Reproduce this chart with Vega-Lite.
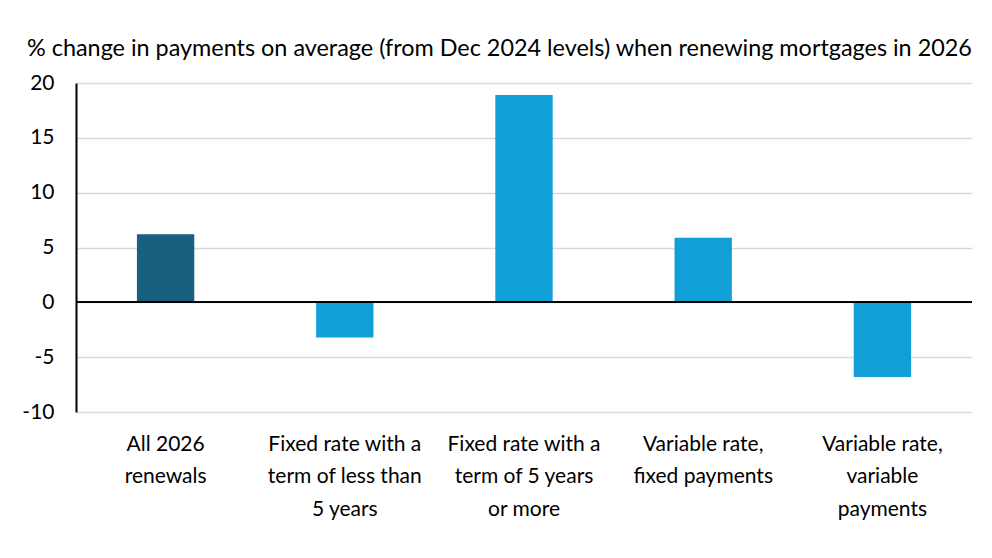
{
  "$schema": "https://vega.github.io/schema/vega-lite/v6.json",
  "width": 896,
  "height": 329,
  "padding": {"left": 76, "top": 83, "right": 20, "bottom": 146},
  "autosize": {"type": "none"},
  "background": "white",
  "title": {
    "text": "% change in payments on average (from Dec 2024 levels) when renewing mortgages in 2026",
    "anchor": "start",
    "frame": "group",
    "dx": -49,
    "offset": 11,
    "font": "Lato",
    "fontSize": 23.4,
    "fontWeight": "normal",
    "color": "#000000"
  },
  "data": {
    "values": [
      {"category": "All 2026 renewals", "group": "all", "change": 6.2},
      {"category": "Fixed rate with a term of less than 5 years", "group": "type", "change": -3.2},
      {"category": "Fixed rate with a term of 5 years or more", "group": "type", "change": 18.9},
      {"category": "Variable rate, fixed payments", "group": "type", "change": 5.9},
      {"category": "Variable rate, variable payments", "group": "type", "change": -6.8}
    ]
  },
  "layer": [
    {
      "mark": {"type": "bar"},
      "encoding": {
        "x": {
          "field": "category",
          "type": "nominal",
          "sort": null,
          "title": null,
          "scale": {"paddingInner": 0.68, "paddingOuter": 0.34},
          "axis": {
            "labelAngle": 0,
            "domain": false,
            "ticks": false,
            "labelPadding": 21,
            "labelFont": "Lato",
            "labelFontSize": 21,
            "labelColor": "#000000",
            "labelLineHeight": 32.5,
            "labelLimit": 300,
            "labelExpr": "{'All 2026 renewals': ['All 2026', 'renewals'], 'Fixed rate with a term of less than 5 years': ['Fixed rate with a', 'term of less than', '5 years'], 'Fixed rate with a term of 5 years or more': ['Fixed rate with a', 'term of 5 years', 'or more'], 'Variable rate, fixed payments': ['Variable rate,', 'fixed payments'], 'Variable rate, variable payments': ['Variable rate,', 'variable', 'payments']}[datum.label]"
          }
        },
        "y": {
          "field": "change",
          "type": "quantitative",
          "title": null,
          "scale": {"domain": [-10, 20], "nice": false},
          "axis": {
            "values": [-10, -5, 0, 5, 10, 15, 20],
            "labelExpr": "replace(datum.label, '\u2212', '-')",
            "ticks": false,
            "domainColor": "#000000",
            "domainWidth": 2,
            "gridColor": "#d9d9d9",
            "gridWidth": 1.5,
            "labelPadding": 22,
            "labelFont": "Lato",
            "labelFontSize": 21,
            "labelColor": "#000000"
          }
        },
        "color": {
          "field": "group",
          "type": "nominal",
          "legend": null,
          "scale": {"domain": ["all", "type"], "range": ["#17607f", "#109fd6"]}
        }
      }
    },
    {
      "mark": {"type": "rule", "color": "#000000", "strokeWidth": 1.5},
      "encoding": {"y": {"datum": 0, "type": "quantitative"}}
    }
  ],
  "config": {
    "view": {"stroke": null}
  }
}
